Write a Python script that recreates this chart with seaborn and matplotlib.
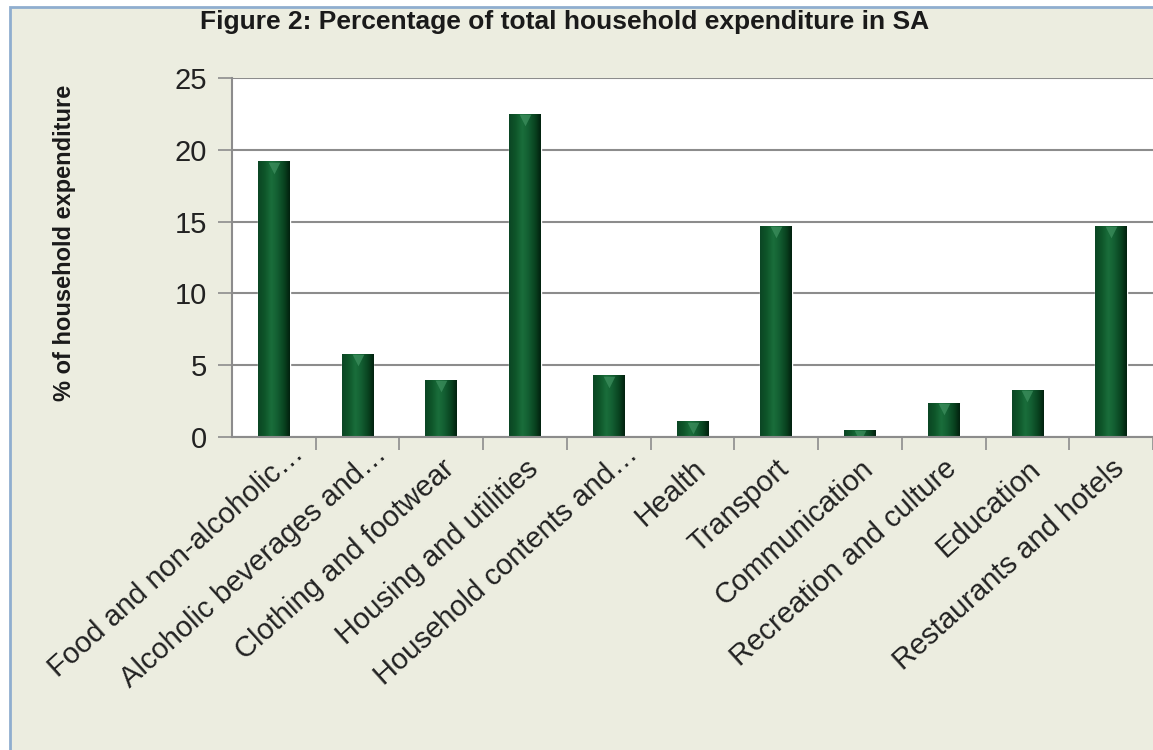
import numpy as np
import pandas as pd
import matplotlib
matplotlib.use("Agg")
import matplotlib.pyplot as plt
import matplotlib.transforms as mtransforms
import seaborn as sns
from matplotlib.colors import LinearSegmentedColormap
from matplotlib.patches import Rectangle

categories = ["Food and non-alcoholic…", "Alcoholic beverages and…", "Clothing and footwear",
              "Housing and utilities", "Household contents and…", "Health", "Transport",
              "Communication", "Recreation and culture", "Education", "Restaurants and hotels"]
values = [19.2, 5.8, 4.0, 22.5, 4.3, 1.1, 14.7, 0.5, 2.4, 3.3, 14.7]
yticks = [0, 5, 10, 15, 20, 25]
title = "Figure 2: Percentage of total household expenditure in SA"
ylabel = "% of household expenditure"

sns.set_theme(style="white")
plt.rcParams['font.family'] = ['Liberation Sans', 'DejaVu Sans']

W, H = 1153, 750
fig = plt.figure(figsize=(W / 100, H / 100), dpi=100, facecolor='white')
fig.patches.append(Rectangle((10 / W, -0.1), 1.2, 1 - 7 / H + 0.1, transform=fig.transFigure,
                             facecolor='#ECEDE0', edgecolor='#8FAECF', linewidth=2, zorder=-10))

ax = fig.add_axes([232 / W, 1 - 437 / H, 1 - 232 / W, (437 - 78) / H])
ax.set_facecolor('white')
df = pd.DataFrame({'cat': categories, 'val': values})
sns.barplot(data=df, x='cat', y='val', color='#0A5228', width=0.38, ax=ax, saturation=1)

cmap = LinearSegmentedColormap.from_list('cyl', [
    (0.0, '#0B4524'), (0.2, '#0E5529'), (0.42, '#1A6E3B'), (0.6, '#135F32'),
    (0.82, '#094320'), (1.0, '#02200E')])
grad = np.linspace(0, 1, 256).reshape(1, -1)
for i, p in enumerate(list(ax.patches)):
    x0, y0 = p.get_x(), p.get_y()
    w, h = p.get_width(), p.get_height()
    im = ax.imshow(grad, cmap=cmap, extent=[x0, x0 + w, y0, y0 + h], aspect='auto',
                   zorder=p.get_zorder() + 0.1, interpolation='bicubic')
    im.set_clip_path(p)
    sc = ax.scatter([x0 + w / 2], [y0 + h - 0.45], marker='v', s=70, color='#3F9160',
                    alpha=0.7, linewidths=0, zorder=p.get_zorder() + 0.2)
    sc.set_clip_path(p)

ax.set_xlim(-0.5, 10.31)
ax.set_ylim(0, 25)
ax.set_yticks(yticks)
ax.set_yticklabels([str(t) for t in yticks], fontsize=21, color='#222222')
ax.yaxis.grid(True, color='#8C8C8C', linewidth=1.5)
ax.set_axisbelow(True)
ax.tick_params(axis='y', which='major', length=10, width=1.2, color='#8C8C8C', direction='out', pad=8, left=True)

ROT = 42
ax.set_xticks(range(len(categories)))
ax.set_xticklabels(categories, rotation=ROT, ha='right', va='center', rotation_mode='anchor',
                   fontsize=21, color='#222222')
ax.tick_params(axis='x', which='major', length=0, pad=20)
for lab in ax.get_xticklabels():
    dx, dy = 9, 0
    if lab.get_text().endswith('…'):
        dx += 22 * np.cos(np.radians(ROT))
        dy += 22 * np.sin(np.radians(ROT))
    off = mtransforms.ScaledTranslation(dx / 100, dy / 100, fig.dpi_scale_trans)
    lab.set_transform(lab.get_transform() + off)
ax.set_xticks(np.arange(len(categories)) + 0.5, minor=True)
ax.tick_params(axis='x', which='minor', length=9, width=1.2, color='#8C8C8C', direction='out', bottom=True)

for s in ['top', 'right']:
    ax.spines[s].set_visible(False)
for s in ['left', 'bottom']:
    ax.spines[s].set_color('#8C8C8C')
    ax.spines[s].set_linewidth(1.5)
ax.set_xlabel('')
ax.set_ylabel('')

fig.text(565 / W, 1 - 22 / H, title, ha='center', va='center', fontsize=19, fontweight='bold', color='#1A1A1A')
fig.text(65 / W, 1 - 243 / H, ylabel, ha='center', va='center', rotation=90, fontsize=17,
         fontweight='bold', color='#1A1A1A')

fig.savefig('out.png', dpi=100, facecolor=fig.get_facecolor())
